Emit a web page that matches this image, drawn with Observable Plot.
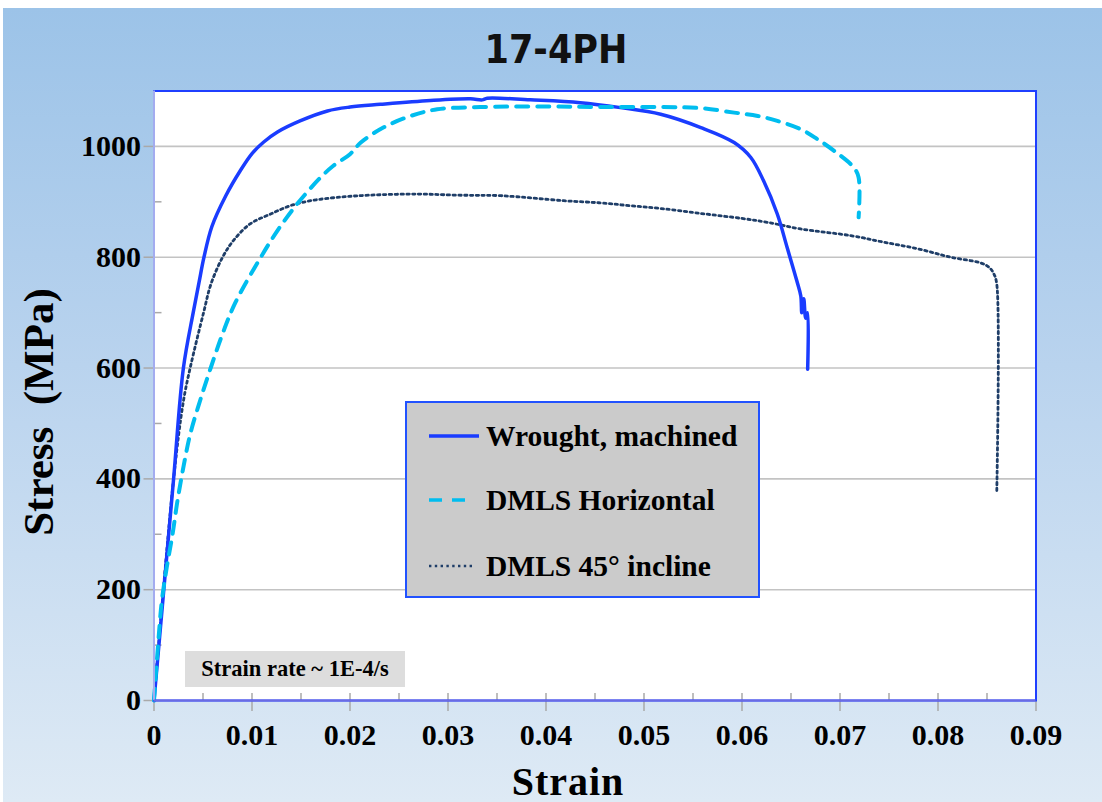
<!DOCTYPE html>
<html>
<head>
<meta charset="utf-8">
<script src="https://cdn.jsdelivr.net/npm/d3@7"></script>
<script src="https://cdn.jsdelivr.net/npm/@observablehq/plot@0.6"></script>
<style>
  html, body { margin: 0; padding: 0; width: 1102px; height: 802px; overflow: hidden; background: #ffffff; }
  #bg { position: absolute; left: 3px; top: 8px; width: 1099px; height: 794px;
        background: linear-gradient(180deg, #9cc3e8 0%, #b9d3ee 45%, #deeaf5 100%); }
  #chart { position: absolute; left: 0; top: 0; }
  #chart svg text { font-weight: bold; }
  .serif { font-family: "Liberation Serif", "Times New Roman", "DejaVu Serif", serif; font-weight: bold; color: #000; }
  #title { position: absolute; left: 5px; width: 1102px; top: 26px; text-align: center;
           font-family: "DejaVu Sans", "Liberation Sans", sans-serif; font-stretch: condensed;
           font-weight: bold; font-size: 39px; line-height: 48px; color: #111; }
  #ylabel { position: absolute; left: 38px; top: 412px; transform: translate(-50%, -50%) rotate(-90deg);
            white-space: pre; font-size: 43px; line-height: 43px; }
  #xlabel { position: absolute; left: 568px; top: 782px; transform: translate(-50%, -50%);
            font-size: 40px; line-height: 40px; white-space: pre; letter-spacing: 1px; }
  #legend { position: absolute; left: 405px; top: 401px; width: 351px; height: 193px;
            background: #cbcbcb; border: 2px solid #2152ff; }
  .row { position: absolute; left: 0; height: 40px; width: 351px; }
  .row svg { position: absolute; left: 22px; top: 0; }
  .row span { position: absolute; left: 79px; top: 0; line-height: 40px; font-size: 29.5px; white-space: pre; }
  #note { position: absolute; left: 185px; top: 651px; width: 220px; height: 36px; background: #dddddd;
          text-align: center; line-height: 36px; font-size: 22.5px; white-space: pre; }
</style>
</head>
<body>
<div id="bg"></div>
<div id="chart"></div>
<div id="title">17-4PH</div>
<div id="ylabel" class="serif">Stress  (MPa)</div>
<div id="xlabel" class="serif">Strain</div>
<div id="legend" class="serif"></div>
<div id="note" class="serif">Strain rate ~ 1E-4/s</div>
<script>
// ---- Data ----
const seriesNames = ["Wrought, machined", "DMLS Horizontal", "DMLS 45° incline"];

const wroughtStrain = [0, 0.0010, 0.0020, 0.0030, 0.0040, 0.0046, 0.0051, 0.0059, 0.0073, 0.0088, 0.0100, 0.0112, 0.0126, 0.0149, 0.0177, 0.0200, 0.0231, 0.0282, 0.0323, 0.0335, 0.0340, 0.0384, 0.0435, 0.0476, 0.0517, 0.0558, 0.0592, 0.0609, 0.0622, 0.0636, 0.0646, 0.0656, 0.0660, 0.0661, 0.0663, 0.0665, 0.0667, 0.0667];
const wroughtStress = [0, 200, 400, 600, 700, 755, 800, 855, 910, 956, 987, 1008, 1026, 1046, 1064, 1071, 1076, 1083, 1086, 1084, 1087, 1084, 1079, 1070, 1058, 1034, 1007, 980, 938, 878, 818, 757, 730, 700, 725, 690, 700, 598];

const horizStrain = [0, 0.0005, 0.0008, 0.0013, 0.0019, 0.0024, 0.0030, 0.0037, 0.0047, 0.0058, 0.0070, 0.0083, 0.0109, 0.0126, 0.0146, 0.0170, 0.0183, 0.0200, 0.0211, 0.0234, 0.0262, 0.0289, 0.0333, 0.0400, 0.0456, 0.0517, 0.0558, 0.0592, 0.0616, 0.0636, 0.0660, 0.0677, 0.0694, 0.0714, 0.0719, 0.0719];
const horizStress = [0, 120, 180, 240, 301, 361, 421, 481, 541, 601, 662, 718, 800, 848, 896, 944, 965, 986, 1007, 1034, 1055, 1067, 1071, 1072, 1071, 1071, 1069, 1061, 1055, 1046, 1031, 1013, 992, 962, 944, 872];

const inclineStrain = [0, 0.0020, 0.0030, 0.0037, 0.0051, 0.0058, 0.0070, 0.0081, 0.0098, 0.0119, 0.0139, 0.0160, 0.0187, 0.0220, 0.0269, 0.0310, 0.0354, 0.0418, 0.0456, 0.0486, 0.0517, 0.0558, 0.0600, 0.0626, 0.0660, 0.0711, 0.0745, 0.0780, 0.0813, 0.0843, 0.0852, 0.0857, 0.0860, 0.0860];
const inclineStress = [0, 400, 540, 601, 703, 751, 800, 830, 860, 878, 893, 902, 908, 912, 914, 912, 911, 902, 898, 893, 888, 879, 870, 863, 851, 839, 827, 815, 800, 790, 782, 770, 751, 379];

const xTicks = [0, 0.01, 0.02, 0.03, 0.04, 0.05, 0.06, 0.07, 0.08, 0.09];
const xTickLabels = ["0", "0.01", "0.02", "0.03", "0.04", "0.05", "0.06", "0.07", "0.08", "0.09"];
const xMinorTicks = [0.005, 0.015, 0.025, 0.035, 0.045, 0.055, 0.065, 0.075, 0.085];
const yTicks = [0, 200, 400, 600, 800, 1000];
const yTickLabels = ["0", "200", "400", "600", "800", "1000"];
const yMinorTicks = [100, 300, 500, 700, 900];
const yGrid = [200, 400, 600, 800, 1000];

// ---- Styles ----
const colors = ["#1a3cff", "#00bdef", "#1f3e68"];
const widths = [3.5, 4, 2.8];
const dashes = [null, "12,9", "2.4,3.4"];

const toRows = (xs, ys) => xs.map((x, i) => ({strain: x, stress: ys[i]}));
const wrought = toRows(wroughtStrain, wroughtStress);
const horiz = toRows(horizStrain, horizStress);
const incline = toRows(inclineStrain, inclineStress);

const tickGray = "#a9a9a9";
const chart = Plot.plot({
  width: 1102,
  height: 802,
  marginLeft: 153.5,
  marginRight: 66.5,
  marginTop: 90.5,
  marginBottom: 102,
  style: {background: "transparent", fontFamily: "'Liberation Serif', 'Times New Roman', serif", overflow: "visible"},
  x: {domain: [0, 0.09]},
  y: {domain: [0, 1100]},
  marks: [
    Plot.frame({fill: "white", stroke: null}),
    Plot.gridY(yGrid, {stroke: "#c3c3c3", strokeOpacity: 1, strokeWidth: 1.6}),
    // y ticks: major outward, minor inward
    Plot.axisY(yTicks, {tickSize: 10, stroke: tickGray, strokeWidth: 1.5, tickFormat: () => "", label: null}),
    Plot.axisY(yMinorTicks, {tickSize: 8, dx: 8, stroke: tickGray, strokeWidth: 1.5, tickFormat: () => "", label: null}),
    Plot.axisY(yTicks, {tickSize: 0, tickPadding: 13, fontSize: 30, color: "black", tickFormat: d => yTickLabels[yTicks.indexOf(d)], label: null}),
    // x ticks: major crossing, minor inward
    Plot.axisX(xTicks, {tickSize: 18, dy: -7, stroke: tickGray, strokeWidth: 1.5, tickFormat: () => "", label: null}),
    Plot.axisX(xMinorTicks, {tickSize: 7, dy: -7, stroke: tickGray, strokeWidth: 1.5, tickFormat: () => "", label: null}),
    Plot.axisX(xTicks, {tickSize: 0, tickPadding: 23, fontSize: 30, color: "black", tickFormat: d => xTickLabels[xTicks.indexOf(d)], label: null}),
    // curves
    Plot.line(incline, {x: "strain", y: "stress", stroke: colors[2], strokeWidth: widths[2], strokeDasharray: dashes[2], curve: "catmull-rom"}),
    Plot.line(wrought, {x: "strain", y: "stress", stroke: colors[0], strokeWidth: widths[0], curve: "catmull-rom"}),
    Plot.line(horiz, {x: "strain", y: "stress", stroke: colors[1], strokeWidth: widths[1], strokeDasharray: dashes[1], curve: "catmull-rom"}),
    // borders
    Plot.frame({stroke: "#1f3fff", strokeWidth: 2}),
    Plot.ruleX([0], {stroke: "#a3acef", strokeWidth: 2}),
    Plot.ruleY([0], {stroke: "#6b6be3", strokeWidth: 2.2})
  ]
});
document.getElementById("chart").appendChild(chart);

// ---- Legend ----
const legend = document.getElementById("legend");
const rowTops = [13, 77, 143];
const swatchLen = [50, 42, 46];
seriesNames.forEach((name, i) => {
  const row = document.createElement("div");
  row.className = "row";
  row.style.top = rowTops[i] + "px";
  const dash = dashes[i] ? ` stroke-dasharray="${i === 1 ? "13,10" : dashes[i]}"` : "";
  row.innerHTML = `<svg width="56" height="40"><line x1="0" y1="20" x2="${swatchLen[i]}" y2="20" stroke="${colors[i]}" stroke-width="${i === 2 ? 2.6 : 3.5}"${dash}/></svg><span>${name}</span>`;
  legend.appendChild(row);
});
</script>
</body>
</html>
